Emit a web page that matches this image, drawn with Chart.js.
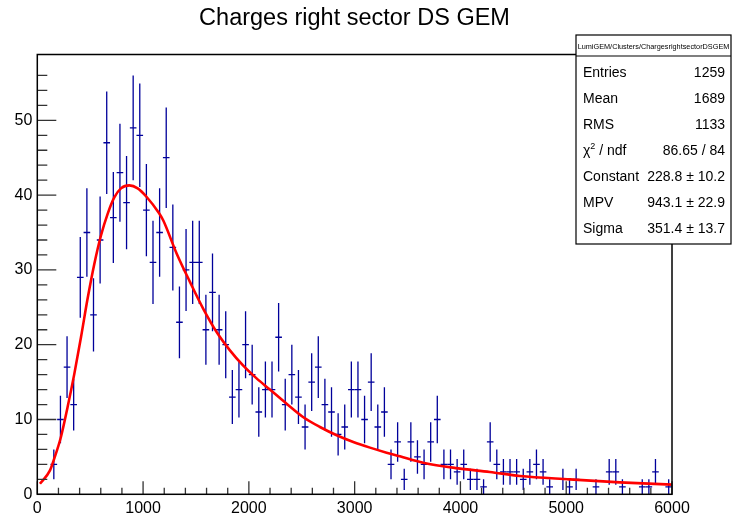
<!DOCTYPE html>
<html>
<head>
<meta charset="utf-8">
<script src="https://cdn.jsdelivr.net/npm/chart.js@4.4.0/dist/chart.umd.min.js"></script>
<style>
  html, body { margin: 0; padding: 0; background: #fff; }
  #wrap { width: 732px; height: 523px; }
</style>
</head>
<body>
<div id="wrap"><canvas id="chart"></canvas></div>
<script>
const chartTitle = 'Charges right sector DS GEM';
const histName = 'LumiGEM/Clusters/ChargesrightsectorDSGEM';

// histogram: 96 bins from 0 to 6000
const binLow = 0;
const binWidth = 62.5;
const counts = [
  0, 0, 4, 10, 17, 12, 29, 35, 24, 34, 47, 37, 43, 39, 49, 48, 38, 31, 35,
  45, 33, 23, 30, 31, 31, 22, 27, 22, 20, 13, 14, 20, 16, 11, 14, 14, 21,
  12, 16, 13, 9, 15, 17, 12, 11, 8, 9, 14, 14, 10, 15, 9, 11, 4, 7,
  2, 7, 5, 4, 7, 10, 4, 4, 3, 4, 2, 2, 1, 7, 4, 3, 3, 3, 2,
  3, 4, 3, 1, 0, 2, 1, 2, 0, 0, 1, 0, 3, 3, 1, 0, 0, 1, 1, 3, 0, 1
];

// landau fit curve
const fitX = [25, 120, 161, 224, 287, 350, 413, 476, 539, 602, 665, 728, 791, 870, 949, 1034,
  1150, 1191, 1317, 1443, 1569, 1695, 1821, 1947, 2073, 2199, 2357, 2515, 2672, 2830, 2987,
  3145, 3302, 3428, 3648, 3963, 4278, 4562, 5035, 5507, 6000];
const fitY = [1.4, 3.2, 4.8, 7.7, 11.7, 16.1, 21.0, 26.2, 30.8, 34.6, 37.5, 39.7, 40.9, 41.3, 40.9, 39.75,
  37.6, 36.6, 32.2, 28.4, 24.8, 21.7, 19.25, 17.2, 15.5, 14.0, 12.1, 10.3, 9.0, 7.9, 7.0,
  6.24, 5.57, 5.08, 4.23, 3.5, 2.99, 2.45, 2.0, 1.6, 1.3];

const statLabels = ['Entries', 'Mean', 'RMS', 'χ2 / ndf', 'Constant', 'MPV', 'Sigma'];
const statValues = ['1259', '1689', '1133', '86.65 / 84', '228.8 ± 10.2', '943.1 ± 22.9', '351.4 ± 13.7'];

const FONT = "'Liberation Sans', Arial, Helvetica, sans-serif";
const histColor = '#00009a';

const histPoints = [];
counts.forEach((c, i) => {
  if (c > 0) histPoints.push({ x: binLow + (i + 0.5) * binWidth, y: c });
});
const fitPoints = fitX.map((x, i) => ({ x: x, y: fitY[i] }));

// error bars like ROOT "E" option
const errorBars = {
  id: 'errorBars',
  beforeDatasetsDraw(chart) {
    const { ctx, scales: { x, y } } = chart;
    ctx.save();
    ctx.strokeStyle = histColor;
    ctx.lineWidth = 1.3;
    histPoints.forEach(p => {
      const err = Math.sqrt(p.y);
      const xl = x.getPixelForValue(p.x - binWidth / 2);
      const xr = x.getPixelForValue(p.x + binWidth / 2);
      const xc = x.getPixelForValue(p.x);
      const yc = y.getPixelForValue(p.y);
      ctx.beginPath();
      ctx.moveTo(xl, yc); ctx.lineTo(xr, yc);
      ctx.moveTo(xc, y.getPixelForValue(p.y + err));
      ctx.lineTo(xc, y.getPixelForValue(Math.max(0, p.y - err)));
      ctx.stroke();
    });
    ctx.restore();
  }
};

// inner ticks + frame
const rootAxes = {
  id: 'rootAxes',
  afterDatasetsDraw(chart) {
    const { ctx, chartArea: a, scales: { x, y } } = chart;
    ctx.save();
    ctx.strokeStyle = '#333';
    ctx.lineWidth = 1.3;
    ctx.beginPath();
    x.ticks.forEach(t => {
      const px = x.getPixelForValue(t.value);
      const len = t.value % 1000 === 0 ? 13 : 6.5;
      ctx.moveTo(px, a.bottom); ctx.lineTo(px, a.bottom - len);
    });
    y.ticks.forEach(t => {
      const py = y.getPixelForValue(t.value);
      const len = t.value % 10 === 0 ? 19 : 10;
      ctx.moveTo(a.left, py); ctx.lineTo(a.left + len, py);
    });
    ctx.stroke();
    ctx.strokeStyle = '#000';
    ctx.lineWidth = 1.5;
    ctx.strokeRect(a.left, a.top, a.right - a.left, a.bottom - a.top);
    ctx.restore();
  },
  afterDraw(chart) {
    const ctx = chart.ctx;
    ctx.save();
    ctx.fillStyle = '#000';
    ctx.font = '23.5px ' + FONT;
    ctx.textAlign = 'center';
    ctx.textBaseline = 'middle';
    ctx.fillText(chartTitle, 354.5, 19);

    // stats box
    const bx = 576, by = 35, bw = 155, bh = 209, head = 21;
    ctx.fillStyle = '#fff';
    ctx.fillRect(bx, by, bw, bh);
    ctx.strokeStyle = '#000';
    ctx.lineWidth = 1.2;
    ctx.strokeRect(bx, by, bw, bh);
    ctx.beginPath();
    ctx.moveTo(bx, by + head); ctx.lineTo(bx + bw, by + head);
    ctx.stroke();
    ctx.fillStyle = '#000';
    ctx.font = '7.3px ' + FONT;
    ctx.textAlign = 'center';
    ctx.fillText(histName, bx + bw / 2, by + head / 2 + 1);
    const rowH = 26;
    statLabels.forEach((lab, i) => {
      const yy = 73.5 + rowH * i;
      ctx.font = '14px ' + FONT;
      ctx.textAlign = 'left';
      if (lab.startsWith('χ2')) {
        ctx.fillText('χ', bx + 7, yy);
        const w = ctx.measureText('χ').width;
        ctx.font = '9px ' + FONT;
        ctx.fillText('2', bx + 7 + w, yy - 5);
        const w2 = ctx.measureText('2').width;
        ctx.font = '14px ' + FONT;
        ctx.fillText(lab.slice(2), bx + 7 + w + w2, yy);
      } else {
        ctx.fillText(lab, bx + 7, yy);
      }
      ctx.textAlign = 'right';
      ctx.fillText(statValues[i], bx + bw - 6, yy);
    });
    ctx.restore();
  }
};

const chart = new Chart(document.getElementById('chart'), {
  type: 'scatter',
  data: {
    datasets: [
      {
        label: 'hist',
        data: histPoints,
        pointRadius: 0,
        pointHoverRadius: 0,
        showLine: false
      },
      {
        label: 'landau',
        data: fitPoints,
        showLine: true,
        borderColor: '#ff0000',
        borderWidth: 2.6,
        pointRadius: 0,
        cubicInterpolationMode: 'monotone',
        fill: false
      }
    ]
  },
  options: {
    responsive: true,
    maintainAspectRatio: false,
    devicePixelRatio: 1,
    animation: false,
    layout: { padding: { top: 54.5, right: 60, left: 0, bottom: 0 } },
    plugins: {
      legend: { display: false },
      tooltip: { enabled: false },
      title: { display: false }
    },
    scales: {
      x: {
        type: 'linear',
        min: 0,
        max: 6000,
        afterFit: s => { s.height = 28.7; },
        grid: { display: false, drawTicks: false },
        border: { display: false },
        ticks: {
          stepSize: 200,
          autoSkip: false,
          maxRotation: 0,
          padding: 5,
          color: '#000',
          font: { family: FONT, size: 16 },
          callback: v => (v % 1000 === 0 ? String(v) : '')
        }
      },
      y: {
        type: 'linear',
        min: 0,
        max: 58.8,
        afterFit: s => { s.width = 37.3; },
        afterBuildTicks: s => { s.ticks = s.ticks.filter(t => Number.isInteger(t.value)); },
        grid: { display: false, drawTicks: false },
        border: { display: false },
        ticks: {
          stepSize: 2,
          autoSkip: false,
          padding: 5,
          color: '#000',
          font: { family: FONT, size: 16 },
          callback: v => (v % 10 === 0 ? String(v) : '')
        }
      }
    }
  },
  plugins: [errorBars, rootAxes]
});
</script>
</body>
</html>
